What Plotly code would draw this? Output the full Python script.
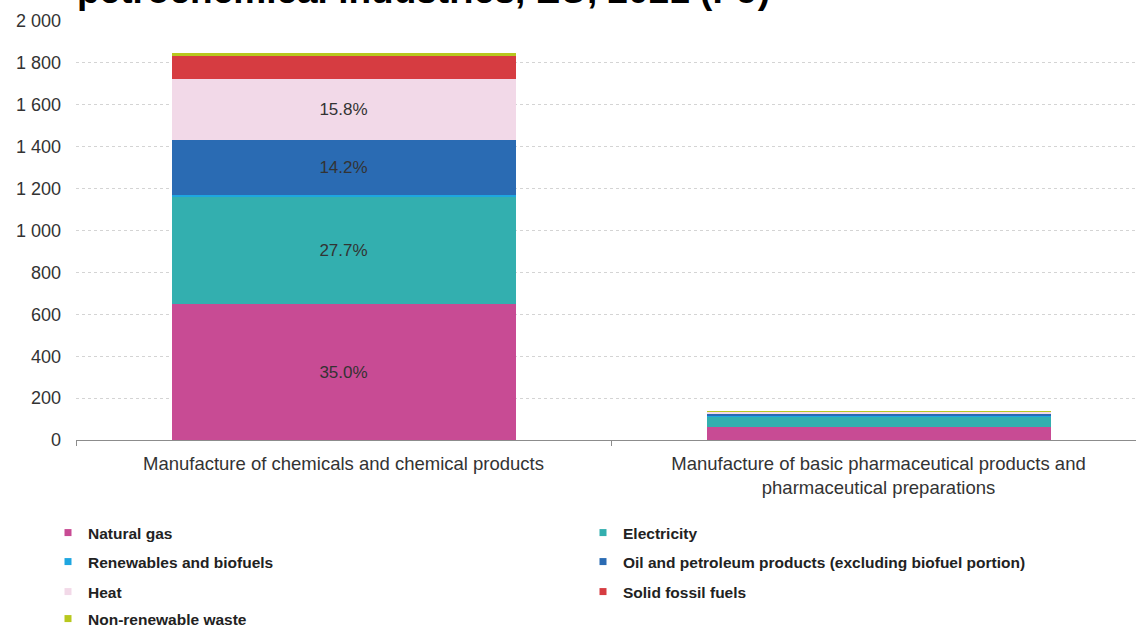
import plotly.graph_objects as go

categories = [
    "Manufacture of chemicals and chemical products",
    "Manufacture of basic pharmaceutical products and<br>pharmaceutical preparations",
]
series_names = [
    "Natural gas",
    "Electricity",
    "Renewables and biofuels",
    "Oil and petroleum products (excluding biofuel portion)",
    "Heat",
    "Solid fossil fuels",
    "Non-renewable waste",
]
natural_gas = [647, 62]
electricity = [512, 52]
renewables = [10, 4]
oil = [263, 9]
heat = [292, 9]
solid_fossil = [111, 1]
non_renewable_waste = [14, 1]
series_values = [natural_gas, electricity, renewables, oil, heat, solid_fossil, non_renewable_waste]
colors = ["#C84B94", "#33AFAF", "#1EA6E0", "#2A6BB3", "#F2D9E8", "#D63C41", "#B8C81E"]
y_ticks = [0, 200, 400, 600, 800, 1000, 1200, 1400, 1600, 1800, 2000]
title_text = "petrochemical industries, EU, 2021 (PJ)"

W, H = 1136, 628
ml, mr, mt, mb = 76, 0, 21, 188
pw = W - ml - mr
ph = H - mt - mb
cat_px = 535  # pixel width of one category band

FONT = "Liberation Sans, Arial"
totals = [sum(s[i] for s in series_values) for i in range(len(categories))]

fig = go.Figure()
for name, vals, col in zip(series_names, series_values, colors):
    labels = []
    for i, v in enumerate(vals):
        share = v / totals[i] * 100
        labels.append(f"{share:.1f}%" if share >= 10 and totals[i] > 1000 else "")
    fig.add_trace(go.Bar(
        x=categories, y=vals, name=name, marker=dict(color=col, line=dict(width=0)),
        width=0.643, text=labels, textposition="inside", insidetextanchor="middle",
        textangle=0, constraintext="none",
        textfont=dict(color="#333333", size=17, family=FONT),
        showlegend=False,
    ))

# legend proxies with small square markers, 2 columns
col_x_px = [48, 583]
row_y_px = [533, 562, 592, 619]
for k, (name, col) in enumerate(zip(series_names, colors)):
    lname = "legend" if k == 0 else f"legend{k+1}"
    fig.add_trace(go.Scatter(
        x=[None], y=[None], mode="markers", name=name,
        marker=dict(symbol="square", size=7, color=col),
        legend=lname, showlegend=True,
    ))
    cx = col_x_px[k % 2]
    cy = row_y_px[k // 2]
    fig.update_layout({lname: dict(
        xref="container", yref="container",
        x=cx / W, y=1 - cy / H, xanchor="left", yanchor="middle",
        bgcolor="rgba(0,0,0,0)", borderwidth=0,
        font=dict(family=FONT, size=15.5, color="#222222", weight="bold"),
    )})

fig.add_annotation(
    text=title_text, xref="paper", yref="paper", x=-1 / pw, y=1 + (mt - 12.5) / ph,
    xanchor="left", yanchor="bottom", showarrow=False,
    font=dict(family=FONT, size=37, color="#000000", weight="bold"),
)

fig.update_layout(
    width=W, height=H, margin=dict(l=ml, r=mr, t=mt, b=mb, pad=0, autoexpand=False),
    barmode="stack", plot_bgcolor="white", paper_bgcolor="white",
    separators=". ",
    font=dict(family=FONT, size=14, color="#333333"),
    xaxis=dict(
        range=[-0.5, -0.5 + pw / cat_px],
        showline=True, linecolor="#8c8c8c", linewidth=1, ticks="outside", tickson="boundaries",
        tickcolor="#8c8c8c", ticklen=5, showgrid=False, ticklabelstandoff=7,
        tickfont=dict(size=18.5, color="#333333"),
    ),
    yaxis=dict(
        range=[0, 2000], tickvals=y_ticks, separatethousands=True, tickformat=",d",
        showgrid=True, gridcolor="#d4d4d4", griddash="dot", gridwidth=1,
        zeroline=False, showline=False, ticks="", ticklabelstandoff=14,
        tickfont=dict(size=18, color="#333333"),
    ),
)

fig.write_html("out.html")
